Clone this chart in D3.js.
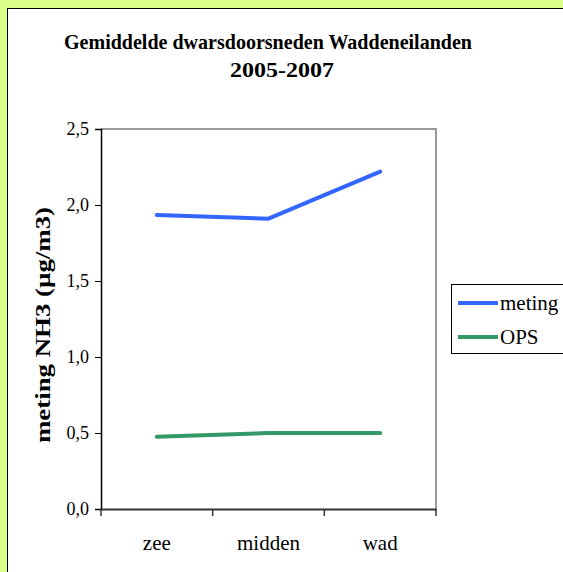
<!DOCTYPE html>
<html>
<head>
<meta charset="utf-8">
<script src="https://cdn.jsdelivr.net/npm/d3@7"></script>
<style>
  body { margin: 0; background: #dbff8a; }
  svg { display: block; }
  svg text { font-family: "Liberation Serif", "DejaVu Serif", serif !important; fill: #000; }
</style>
</head>
<body>
<svg width="563" height="572"></svg>
<script>
var categories = ["zee", "midden", "wad"];
var meting = [1.935, 1.91, 2.22];
var ops = [0.475, 0.50, 0.50];
var yTicks = [0, 0.5, 1.0, 1.5, 2.0, 2.5];
var seriesNames = ["meting", "OPS"];
var seriesColors = ["#3366ff", "#339966"];

var svg = d3.select("svg");

// chart box
svg.append("rect").attr("x", 8.5).attr("y", 9.5).attr("width", 600).attr("height", 600)
  .attr("fill", "none").attr("stroke", "#888").attr("stroke-width", 1);
svg.append("rect").attr("x", 7.5).attr("y", 8.5).attr("width", 600).attr("height", 600)
  .attr("fill", "#fff").attr("stroke", "#000").attr("stroke-width", 1);

// title
var title = svg.append("text").attr("text-anchor", "middle")
  .style("font-weight", "bold").style("font-size", "22px");
title.append("tspan").attr("x", 268).attr("y", 49)
  .attr("textLength", 408).attr("lengthAdjust", "spacingAndGlyphs")
  .text("Gemiddelde dwarsdoorsneden Waddeneilanden");
title.append("tspan").attr("x", 282).attr("y", 77)
  .attr("textLength", 104).attr("lengthAdjust", "spacingAndGlyphs")
  .text("2005-2007");

var pLeft = 101, pRight = 436, pTop = 129, pBottom = 509;

var x = d3.scaleBand().domain(categories).range([pLeft, pRight]);
var y = d3.scaleLinear().domain([0, 2.5]).range([pBottom, pTop]);

// plot border top / right
svg.append("path")
  .attr("d", "M" + pLeft + "," + pTop + "H" + pRight + "V" + pBottom)
  .attr("fill", "none").attr("stroke", "#999").attr("stroke-width", 2);

// y axis
var yAxis = svg.append("g").attr("transform", "translate(" + pLeft + ",0)")
  .call(d3.axisLeft(y).tickValues(yTicks).tickSize(6).tickPadding(6)
    .tickFormat(function(d) { return d3.format(".1f")(d).replace(".", ","); }));
yAxis.attr("font-family", null);
yAxis.select(".domain").attr("stroke", "#000").attr("stroke-width", 1.5);
yAxis.selectAll(".tick line").attr("stroke", "#000");
yAxis.selectAll(".tick text").style("font-size", "18px");

// x axis
var xAxis = svg.append("g").attr("transform", "translate(0," + pBottom + ")")
  .call(d3.axisBottom(x).tickSize(0).tickPadding(26));
xAxis.attr("font-family", null);
xAxis.select(".domain").attr("stroke", "#333").attr("stroke-width", 2);
xAxis.selectAll(".tick text").style("font-size", "21px");
var bounds = [pLeft].concat(categories.map(function(c) { return x(c) + x.bandwidth(); }));
svg.append("g").selectAll("line").data(bounds).join("line")
  .attr("x1", function(d) { return d; }).attr("x2", function(d) { return d; })
  .attr("y1", pBottom).attr("y2", pBottom + 7)
  .attr("stroke", "#333").attr("stroke-width", 1.5);

// y label
svg.append("text")
  .attr("transform", "translate(50,325) rotate(-90)")
  .attr("text-anchor", "middle")
  .attr("textLength", 236).attr("lengthAdjust", "spacingAndGlyphs")
  .style("font-weight", "bold").style("font-size", "22px")
  .text("meting NH3 (\u00b5g/m3)");

// lines
var line = d3.line()
  .x(function(d, i) { return x(categories[i]) + x.bandwidth() / 2; })
  .y(function(d) { return y(d); });

[meting, ops].forEach(function(s, i) {
  svg.append("path").datum(s)
    .attr("d", line)
    .attr("fill", "none")
    .attr("stroke", seriesColors[i])
    .attr("stroke-width", 4)
    .attr("stroke-linecap", "round")
    .attr("stroke-linejoin", "round");
});

// legend
var lg = svg.append("g");
lg.append("rect").attr("x", 451.5).attr("y", 284.5).attr("width", 130).attr("height", 69)
  .attr("fill", "#fff").attr("stroke", "#000").attr("stroke-width", 1);
seriesNames.forEach(function(n, i) {
  var ly = 303 + i * 34;
  lg.append("line").attr("x1", 458).attr("x2", 498).attr("y1", ly).attr("y2", ly)
    .attr("stroke", seriesColors[i]).attr("stroke-width", 4);
  lg.append("text").attr("x", 500).attr("y", ly + 7).style("font-size", "21px").text(n);
});
</script>
</body>
</html>
